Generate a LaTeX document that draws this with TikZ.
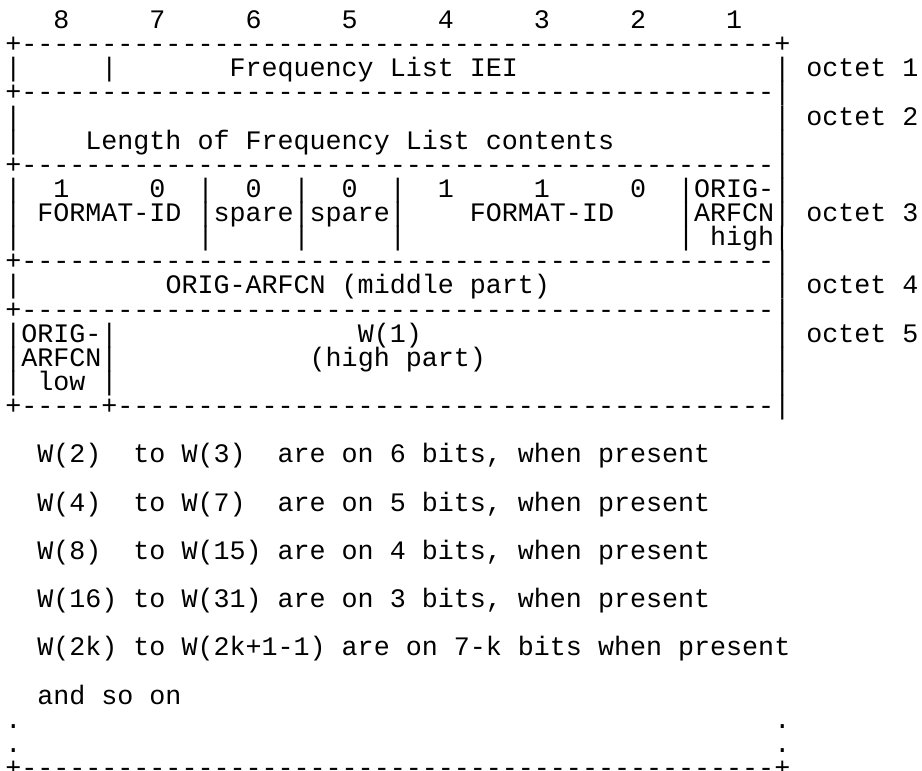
\documentclass[tikz,border=0pt]{standalone}
\usepackage{fontspec}
\setmonofont{Liberation Mono}
\newcommand\asciifont{\ttfamily\fontsize{26.7pt}{24pt}\selectfont\frenchspacing\spaceskip=0.6em\relax\xspaceskip=0.6em\relax}
\newcommand\sk[1]{\hspace*{\dimexpr #1em*6/10\relax}}
\ExplSyntaxOn
\newcommand\dsh[1]{\prg_replicate:nn{#1}{-}}
\ExplSyntaxOff
\tikzset{ascii/.style={anchor=base west, inner sep=0pt, outer sep=0pt, font=\asciifont}}
\begin{document}
\begin{tikzpicture}
\useasboundingbox (0,0) rectangle (922pt,-771pt);
\begin{scope}[shift={(5.3pt,-28.5pt)}, y=-24.133pt]
\node[ascii] (l0) at (0,0) {\sk{3}8\sk{5}7\sk{5}6\sk{5}5\sk{5}4\sk{5}3\sk{5}2\sk{5}1};
\node[ascii] (l1) at (0,1) {+\dsh{47}+};
\node[ascii] (l2) at (0,2) {|\sk{5}|\sk{7}Frequency List IEI\sk{16}|\sk{1}octet 1};
\node[ascii] (l3) at (0,3) {+\dsh{47}|};
\node[ascii] (l4) at (0,4) {|\sk{47}|\sk{1}octet 2};
\node[ascii] (l5) at (0,5) {|\sk{4}Length of Frequency List contents\sk{10}|};
\node[ascii] (l6) at (0,6) {+\dsh{47}|};
\node[ascii] (l7) at (0,7) {|\sk{2}1\sk{5}0\sk{2}|\sk{2}0\sk{2}|\sk{2}0\sk{2}|\sk{2}1\sk{5}1\sk{5}0\sk{2}|ORIG-|};
\node[ascii] (l8) at (0,8) {|\sk{1}FORMAT-ID\sk{1}|spare|spare|\sk{4}FORMAT-ID\sk{4}|ARFCN|\sk{1}octet 3};
\node[ascii] (l9) at (0,9) {|\sk{11}|\sk{5}|\sk{5}|\sk{17}|\sk{1}high|};
\node[ascii] (l10) at (0,10) {+\dsh{47}|};
\node[ascii] (l11) at (0,11) {|\sk{9}ORIG-ARFCN (middle part)\sk{14}|\sk{1}octet 4};
\node[ascii] (l12) at (0,12) {+\dsh{47}|};
\node[ascii] (l13) at (0,13) {|ORIG-|\sk{15}W(1)\sk{22}|\sk{1}octet 5};
\node[ascii] (l14) at (0,14) {|ARFCN|\sk{12}(high part)\sk{18}|};
\node[ascii] (l15) at (0,15) {|\sk{1}low\sk{1}|\sk{41}|};
\node[ascii] (l16) at (0,16) {+\dsh{5}+\dsh{41}|};
\node[ascii] (l18) at (0,18) {\sk{2}W(2)\sk{2}to W(3)\sk{2}are on 6 bits, when present};
\node[ascii] (l20) at (0,20) {\sk{2}W(4)\sk{2}to W(7)\sk{2}are on 5 bits, when present};
\node[ascii] (l22) at (0,22) {\sk{2}W(8)\sk{2}to W(15) are on 4 bits, when present};
\node[ascii] (l24) at (0,24) {\sk{2}W(16) to W(31) are on 3 bits, when present};
\node[ascii] (l26) at (0,26) {\sk{2}W(2k) to W(2k+1-1) are on 7-k bits when present};
\node[ascii] (l28) at (0,28) {\sk{2}and so on};
\node[ascii] (l29) at (0,29) {.\sk{47}.};
\node[ascii] (l30) at (0,30) {.\sk{47}.};
\node[ascii] (l31) at (0,30.7) {\raisebox{-7.24pt}[0pt][0pt]{+\dsh{47}+}};
\end{scope}
\end{tikzpicture}
\end{document}
